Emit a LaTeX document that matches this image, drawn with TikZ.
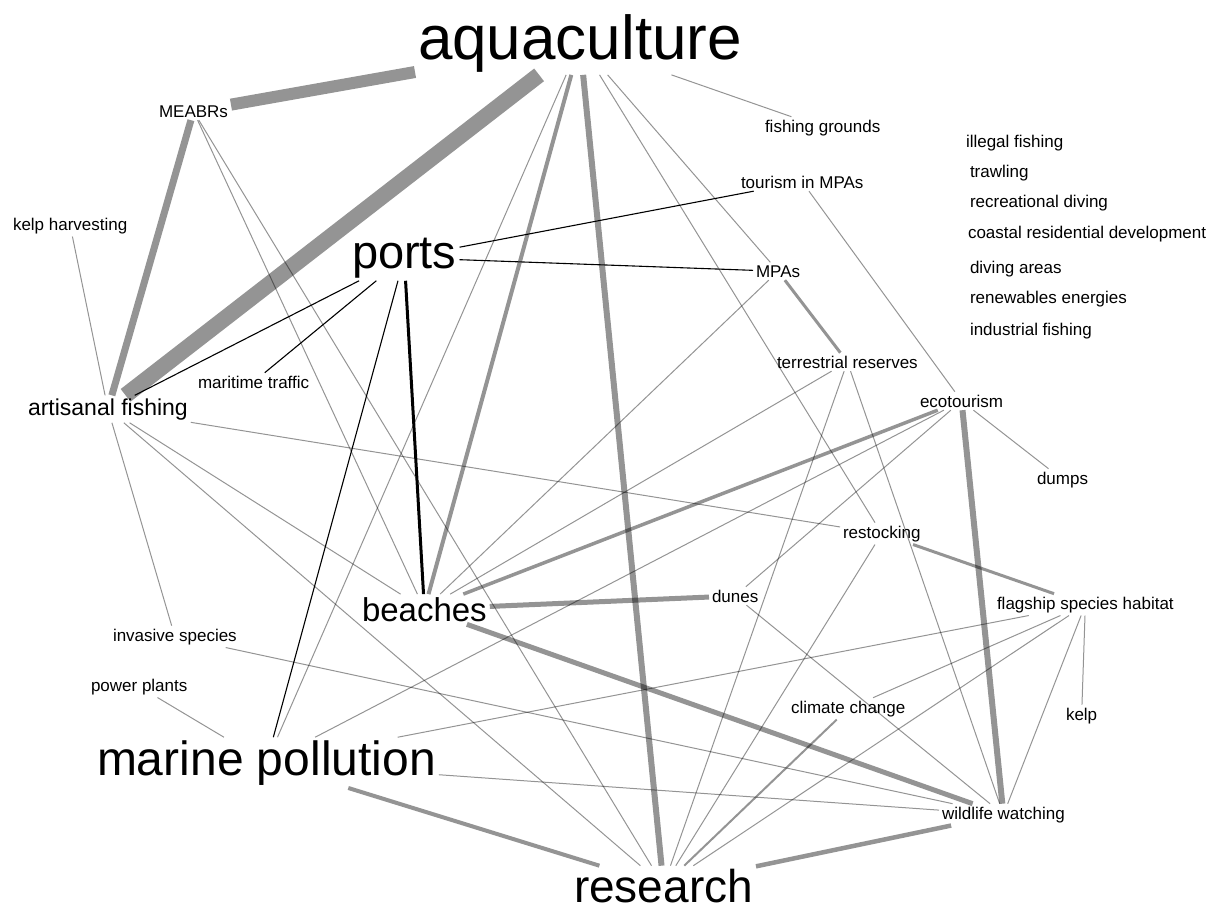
\documentclass[tikz,border=0pt]{standalone}
\usepackage{fontspec}
\setmainfont{Liberation Sans}
\usepackage{tikz}
\tikzset{word/.style={anchor=base west, inner sep=3pt, outer sep=0pt,
         font=\fontsize{17}{17}\selectfont},
         hub/.style={word, font=\fontsize{#1}{#1}\selectfont},
         tie/.style={draw=black, draw opacity=0.42, line width=#1},
         tie/.default=1pt,
         link/.style={draw=black, line width=#1},
         link/.default=1.1pt}

\begin{document}
\begin{tikzpicture}[x=1pt,y=-1pt]
\useasboundingbox (0,0) rectangle (1222,911);

\node [hub=62] (aqua) at (415,59) {aquaculture};
\node [hub=47] (ports) at (349,268) {ports};
\node [hub=23] (artfish) at (25,415) {artisanal fishing};
\node [hub=33] (beaches) at (359,621) {beaches};
\node [hub=48] (marpol) at (94,775) {marine pollution};
\node [hub=46] (research) at (571,902) {research};

\node [word] (meabrs) at (156,117) {MEABRs};
\node [word] (kelpharv) at (10,230) {kelp harvesting};
\node [word] (fishgr) at (762,132) {fishing grounds};
\node [word] (tourmpa) at (738,188) {tourism in MPAs};
\node [word] (mpas) at (753,277) {MPAs};
\node [word] (maritime) at (195,388) {maritime traffic};
\node [word] (terres) at (774,368) {terrestrial reserves};
\node [word] (ecotour) at (917,407) {ecotourism};
\node [word] (dumps) at (1034,484) {dumps};
\node [word] (restock) at (840,538) {restocking};
\node [word] (dunes) at (709,602) {dunes};
\node [word] (flagship) at (994,609) {flagship species habitat};
\node [word] (invasive) at (110,641) {invasive species};
\node [word] (power) at (88,691) {power plants};
\node [word] (climate) at (788,713) {climate change};
\node [word] (kelp) at (1063,720) {kelp};
\node [word] (wildlife) at (939,819) {wildlife watching};

% concepts with no ties
\node [word] (illegal) at (963,147) {illegal fishing};
\node [word] (trawl) at (967,177) {trawling};
\node [word] (recdiv) at (967,207) {recreational diving};
\node [word] (coastal) at (965,238) {coastal residential development};
\node [word] (divarea) at (967,273) {diving areas};
\node [word] (renew) at (967,303) {renewables energies};
\node [word] (indfish) at (967,335) {industrial fishing};

% heavy ties
\draw [tie=16pt] (aqua) --(artfish);
\draw [tie=12pt] (aqua) --(meabrs);
\draw [tie=7pt] (meabrs) --(artfish);
\draw [tie=6pt] (aqua) --(research);
\draw [tie=6pt] (ecotour) --(wildlife);
\draw [tie=5pt] (beaches) --(wildlife);
\draw [tie=5pt] (beaches) --(dunes);
\draw [tie=4pt] (aqua) --(beaches);
\draw [tie=3.5pt] (ecotour) --(beaches);
\draw [tie=4pt] (marpol) --(research);
\draw [tie=4.5pt] (research) --(wildlife);
\draw [tie=3pt] (mpas) --(terres);
\draw [tie=3pt] (restock) --(flagship);
\draw [tie=2pt] (climate) --(research);

% light ties
\draw [tie] (aqua) --(marpol);
\draw [tie] (aqua) --(mpas);
\draw [tie] (aqua) --(restock);
\draw [tie] (aqua) --(fishgr);
\draw [tie] (meabrs) --(beaches);
\draw [tie] (meabrs) --(research);
\draw [tie] (kelpharv) --(artfish);
\draw [tie] (artfish) --(restock);
\draw [tie] (artfish) --(invasive);
\draw [tie] (artfish) --(beaches);
\draw [tie] (artfish) --(research);
\draw [tie] (tourmpa) --(ecotour);
\draw [tie] (mpas) --(beaches);
\draw [tie] (terres) --(beaches);
\draw [tie] (terres) --(research);
\draw [tie] (terres) --(wildlife);
\draw [tie] (ecotour) --(marpol);
\draw [tie] (ecotour) --(dunes);
\draw [tie] (ecotour) --(dumps);
\draw [tie] (restock) --(research);
\draw [tie] (dunes) --(wildlife);
\draw [tie] (flagship) --(marpol);
\draw [tie] (flagship) --(climate);
\draw [tie] (flagship) --(research);
\draw [tie] (flagship) --(wildlife);
\draw [tie] (flagship) --(kelp);
\draw [tie] (invasive) --(wildlife);
\draw [tie] (power) --(marpol);
\draw [tie] (marpol) --(wildlife);

% ports
\draw [link] (ports) --(tourmpa);
\draw [link] (ports) --(mpas);
\draw [link] (ports) --(artfish);
\draw [link] (ports) --(maritime);
\draw [link] (ports) --(marpol);
\draw [link=3pt] (ports) --(beaches);

\end{tikzpicture}
\end{document}
